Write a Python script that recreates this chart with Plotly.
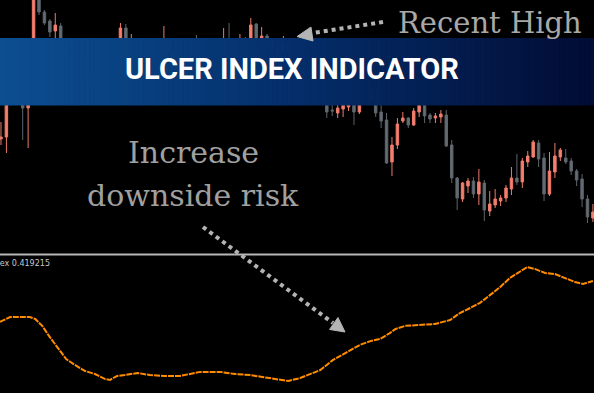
import plotly.graph_objects as go

# ---- price pane (candles), arbitrary price units ----
candle_idx = list(range(110))
opens = [116, 118, 160, 157, 155, 147, 155, 258, 243, 234, 224, 229, 210, 200, 187, 195, 180, 167, 180, 190,
         183, 200, 207, 227, 195, 210, 197, 187, 199, 207, 200, 215, 203, 191, 201, 193, 207, 197, 185, 195,
         181, 200, 213, 200, 190, 210, 203, 231, 205, 219, 213, 200, 205, 213, 203, 211, 200, 189, 177, 187,
         160, 145, 142, 146, 148, 160, 143, 157, 155, 165, 143, 135, 93, 110, 134, 137, 130, 143, 155, 140,
         137, 138, 140, 110, 77, 56, 69, 74, 61, 72, 44, 50, 54, 57, 66, 77, 73, 93, 98, 112,
         97, 61, 83, 98, 97, 94, 84, 76, 56, 37]
highs = [133, 165, 170, 175, 163, 165, 265, 263, 245, 236, 242, 232, 215, 205, 200, 203, 187, 185, 193, 197,
         205, 213, 232, 231, 221, 215, 205, 203, 210, 213, 229, 216, 210, 205, 207, 211, 220, 203, 200, 201,
         205, 227, 232, 207, 221, 218, 237, 232, 228, 221, 215, 213, 219, 215, 215, 218, 207, 195, 193, 195,
         167, 155, 153, 155, 157, 167, 160, 170, 173, 170, 155, 142, 118, 137, 143, 138, 147, 155, 160, 142,
         142, 145, 145, 115, 78, 73, 77, 78, 86, 75, 64, 66, 60, 70, 88, 101, 97, 104, 115, 115,
         102, 103, 112, 107, 106, 97, 86, 81, 60, 51]
lows = [110, 102, 155, 153, 115, 107, 153, 240, 230, 218, 213, 205, 195, 183, 180, 175, 163, 160, 175, 177,
        177, 193, 200, 197, 190, 193, 183, 181, 193, 195, 195, 197, 185, 185, 187, 189, 193, 180, 179, 175,
        177, 195, 193, 183, 185, 197, 197, 197, 200, 207, 195, 193, 199, 197, 199, 195, 183, 173, 170, 160,
        137, 139, 137, 138, 144, 130, 141, 151, 151, 138, 127, 91, 79, 106, 132, 127, 129, 138, 132, 132,
        132, 132, 108, 72, 45, 53, 62, 57, 50, 34, 39, 47, 49, 53, 60, 70, 67, 88, 97, 88,
        54, 59, 77, 94, 91, 80, 69, 48, 32, 33]
closes = [118, 160, 157, 170, 147, 160, 260, 243, 232, 223, 230, 210, 200, 187, 195, 180, 167, 180, 190, 183,
          200, 210, 227, 205, 210, 197, 187, 199, 207, 200, 215, 203, 191, 201, 193, 207, 197, 185, 195, 181,
          200, 213, 200, 190, 210, 203, 230, 205, 219, 213, 200, 209, 213, 203, 211, 200, 189, 177, 187, 167,
          143, 144, 147, 151, 153, 143, 157, 155, 165, 142, 134, 92, 110, 131, 137, 130, 144, 151, 139, 136,
          139, 141, 109, 77, 57, 72, 74, 61, 73, 45, 51, 56, 57, 67, 77, 73, 94, 99, 113, 96,
          61, 84, 99, 105, 93, 84, 75, 56, 38, 43]

# ---- ulcer index pane ----
ui_idx = [-0.2, 1.7, 3.5, 5.3, 6.3, 7.6, 9.0, 10.5, 12.0, 13.6, 15.5, 17.3, 19.2, 20.1, 21.4, 22.8, 25.2,
          27.4, 30.2, 33.0, 34.8, 36.7, 38.5, 40.3, 43.1, 45.9, 48.1, 50.5, 52.9, 55.1, 56.9, 58.8, 61.1,
          63.4, 66.1, 68.0, 69.8, 71.6, 72.6, 74.4, 77.2, 79.9, 82.7, 84.5, 86.4, 88.2, 90.1, 91.9, 93.7,
          95.6, 96.9, 98.3, 100.2, 102.0, 103.9, 105.7, 107.2, 109.0]
ui_val = [0.266, 0.284, 0.284, 0.284, 0.277, 0.251, 0.209, 0.168, 0.127, 0.105, 0.082, 0.071, 0.052, 0.049,
          0.064, 0.067, 0.075, 0.067, 0.064, 0.064, 0.071, 0.079, 0.079, 0.079, 0.071, 0.067, 0.060, 0.052,
          0.045, 0.056, 0.071, 0.086, 0.123, 0.150, 0.180, 0.194, 0.202, 0.224, 0.239, 0.251, 0.254, 0.258,
          0.273, 0.299, 0.318, 0.337, 0.367, 0.396, 0.430, 0.456, 0.471, 0.464, 0.449, 0.445, 0.430, 0.415,
          0.408, 0.419]
ui_label = "Ulcer Index 0.419215"

W, H = 600, 400


def px(x):
    return x / W


def py(y):
    return 1 - y / H


fig = go.Figure()
fig.add_trace(go.Candlestick(
    x=candle_idx, open=opens, high=highs, low=lows, close=closes,
    increasing=dict(line=dict(color='#ef7b6b', width=1), fillcolor='#f5806f'),
    decreasing=dict(line=dict(color='#5d646b', width=1), fillcolor='#646c74'),
    whiskerwidth=0, showlegend=False, hoverinfo='skip',
))
fig.add_trace(go.Scatter(
    x=ui_idx, y=ui_val, yaxis='y2', mode='lines',
    line=dict(color='#ff8c00', width=2, dash='6px,1px'), showlegend=False, hoverinfo='skip',
))

shapes = []
# banner with a horizontal gradient, built from thin strips
c0, c1, c2 = (12, 78, 145), (4, 46, 106), (2, 12, 52)
n = 120
for i in range(n):
    t = i / (n - 1)
    if t < 0.5:
        a, b, u = c0, c1, t / 0.5
    else:
        a, b, u = c1, c2, (t - 0.5) / 0.5
    col = 'rgb(%d,%d,%d)' % tuple(round(a[k] + (b[k] - a[k]) * u) for k in range(3))
    x0 = 594 * i / n
    x1 = 594 * (i + 1) / n + 0.6
    shapes.append(dict(type='rect', xref='paper', yref='paper', x0=px(x0), x1=px(x1),
                       y0=py(105.5), y1=py(38), fillcolor=col, line=dict(width=0), layer='above'))

# pane separator
shapes.append(dict(type='line', xref='paper', yref='paper', x0=0, x1=px(594), y0=py(254.5), y1=py(254.5),
                   line=dict(color='#b8b8b8', width=2), layer='above'))

# dotted arrows
arrow_col = '#b4b4b4'
shapes.append(dict(type='line', xref='paper', yref='paper', x0=px(383), y0=py(22), x1=px(310), y1=py(33.5),
                   line=dict(color=arrow_col, width=4, dash='4px,4px'), layer='above'))
shapes.append(dict(type='line', xref='paper', yref='paper', x0=px(203), y0=py(227), x1=px(333), y1=py(323),
                   line=dict(color=arrow_col, width=4, dash='4px,4px'), layer='above'))


def tri(pts):
    d = 'M ' + ' L '.join('%.4f,%.4f' % (px(x), py(y)) for x, y in pts) + ' Z'
    return dict(type='path', xref='paper', yref='paper', path=d, fillcolor=arrow_col,
                line=dict(color=arrow_col, width=1), layer='above')


shapes.append(tri([(297, 36.5), (311, 27), (313, 41)]))
shapes.append(tri([(345, 332), (329.5, 329.5), (338, 317.5)]))

# white margins of the picture
shapes.append(dict(type='rect', xref='paper', yref='paper', x0=px(594), x1=1, y0=0, y1=1,
                   fillcolor='white', line=dict(width=0), layer='above'))
shapes.append(dict(type='rect', xref='paper', yref='paper', x0=0, x1=1, y0=0, y1=py(393),
                   fillcolor='white', line=dict(width=0), layer='above'))

serif = 'DejaVu Serif'


def label(text, x, y, size, color, family=serif, xanchor='center'):
    return dict(text=text, x=px(x), y=py(y), xref='paper', yref='paper', xanchor=xanchor,
                yanchor='middle', showarrow=False, font=dict(family=family, size=size, color=color))


annotations = [
    label('<b>ULCER INDEX INDICATOR</b>', 292, 69, 29, 'white', family='Roboto'),
    label('Recent High', 490, 23, 29, '#a8a8a8'),
    label('Increase', 193, 152, 30, '#a0a0a0'),
    label('downside risk', 193, 195, 30, '#a0a0a0'),
    label(ui_label, 52, 263, 8, '#c8c8c8', family='DejaVu Sans', xanchor='right'),
]

fig.update_layout(
    width=W, height=H,
    margin=dict(l=0, r=0, t=0, b=0),
    paper_bgcolor='black', plot_bgcolor='black',
    xaxis=dict(domain=[0, px(594)], range=[-0.18, 109.2], visible=False,
               rangeslider=dict(visible=False), fixedrange=True),
    yaxis=dict(domain=[py(254), 1], range=[1, 255], visible=False, fixedrange=True),
    yaxis2=dict(domain=[py(393), py(256)], range=[0, 0.5124], visible=False, anchor='x', fixedrange=True),
    boxgap=0.35,
    shapes=shapes,
    annotations=annotations,
)

# the page's default body margin would shift the figure by 8px
fig.write_html("out.html", config={'displayModeBar': False},
               post_script="document.body.style.margin='0';")
